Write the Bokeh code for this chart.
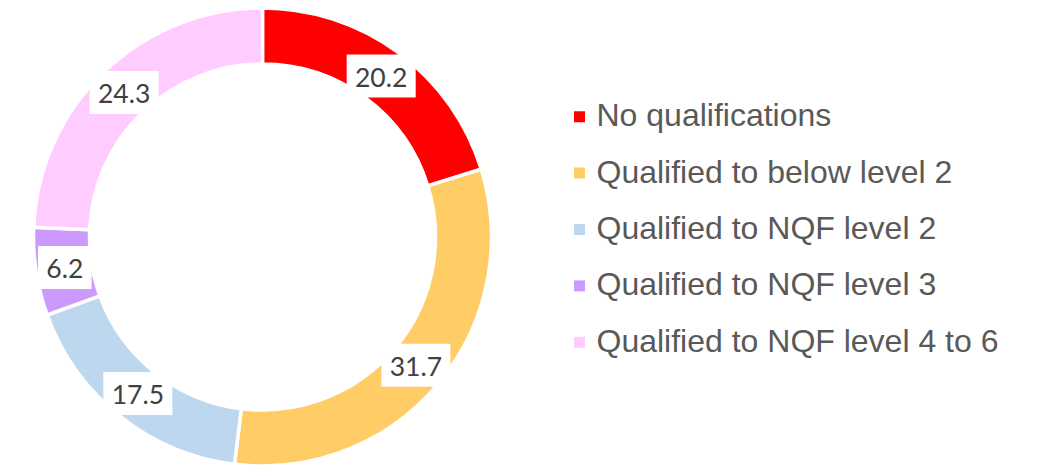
import numpy as np
from bokeh.plotting import figure
from bokeh.models import Range1d, ColumnDataSource
from bokeh.core.properties import value
from bokeh.embed import file_html
from bokeh.resources import INLINE

# ---- data ----
categories = [
    "No qualifications",
    "Qualified to below level 2",
    "Qualified to NQF level 2",
    "Qualified to NQF level 3",
    "Qualified to NQF level 4 to 6",
]
values = [20.2, 31.7, 17.5, 6.2, 24.3]
colors = ["#FF0000", "#FFCC66", "#BDD7EE", "#CC99FF", "#FFCCFF"]

# ---- layout (page pixel coordinates; figure sits at page origin) ----
W, H = 1047, 465
cx, cy_page = 262.0, 236.5
r_out, r_in = 229.0, 173.0
r_lab = 200.0

def py(y_page):
    return H - y_page

p = figure(width=W, height=H, x_range=Range1d(0, W), y_range=Range1d(0, H),
           output_backend="svg", toolbar_location=None, x_axis_type=None, y_axis_type=None,
           min_border=0, outline_line_color=None, background_fill_color="white",
           border_fill_color="white")

total = float(sum(values))
frac = np.array(values) / total
cum = np.concatenate([[0.0], np.cumsum(frac)])
start = np.pi / 2 - 2 * np.pi * cum[:-1]
end = np.pi / 2 - 2 * np.pi * cum[1:]

src = ColumnDataSource(dict(start=start, end=end, color=colors))
p.annular_wedge(x=cx, y=py(cy_page), inner_radius=r_in, outer_radius=r_out,
                start_angle="start", end_angle="end", direction="clock",
                fill_color="color", line_color="white", line_width=3.5, source=src)

# ---- data labels ----
mid = 2 * np.pi * (cum[:-1] + cum[1:]) / 2
lx = cx + r_lab * np.sin(mid)
ly_page = cy_page - r_lab * np.cos(mid)
label_txt = [f"{v:.1f}" for v in values]
fs_lab = 26.5
def text_w(s):
    return sum(0.58 * fs_lab if ch.isdigit() else 0.26 * fs_lab for ch in s)
box_w = [text_w(s) + 16 for s in label_txt]
lab_src = ColumnDataSource(dict(x=lx, y=[py(v) for v in ly_page], w=box_w,
                                ty=[py(v + 1) for v in ly_page], t=label_txt))
p.rect(x="x", y="y", width="w", height=43, fill_color="white", line_color=None, source=lab_src)
p.text(x="x", y="ty", text="t", text_align="center", text_baseline="middle",
       text_font=value("Lato"), text_font_size=f"{fs_lab}px", text_color="#404040", source=lab_src)

# ---- legend ----
fs_leg = 32
c0, step = 114.7, 56.4
centers = [c0 + i * step for i in range(len(categories))]
leg_src = ColumnDataSource(dict(
    sx=[579] * len(categories),
    sy=[py(c + 1.5) for c in centers],
    tx=[596] * len(categories),
    ty=[py(c) for c in centers],
    t=categories, color=colors))
p.rect(x="sx", y="sy", width=11, height=11, fill_color="color", line_color=None, source=leg_src)
p.text(x="tx", y="ty", text="t", text_align="left", text_baseline="middle",
       text_font=value("Liberation Sans"), text_font_size=f"{fs_leg}px", text_color="#595959",
       source=leg_src)

open("out.html", "w").write(file_html(p, INLINE))
